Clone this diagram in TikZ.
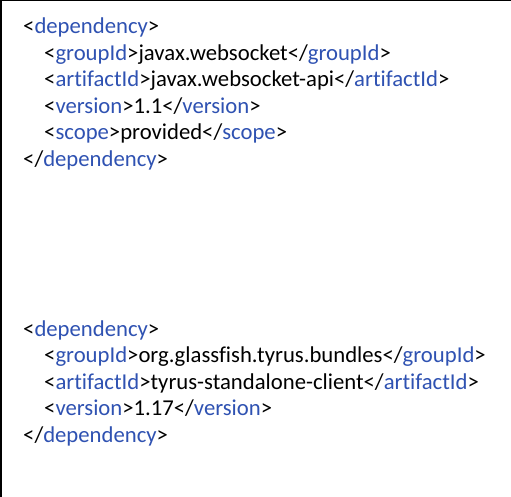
\documentclass[tikz,border=0pt]{standalone}
\usepackage{fontspec}
\setmainfont{Carlito}[Ligatures=NoCommon]
\definecolor{tagblue}{RGB}{47,82,178}
\newcommand{\otag}[1]{<\textcolor{tagblue}{#1}>}
\newcommand{\ctag}[1]{</\textcolor{tagblue}{#1}>}
\begin{document}
\begin{tikzpicture}[x=1pt,y=-1pt,
  codeline/.style={anchor=base west,inner sep=0pt,font=\fontsize{22.7}{26}\selectfont,text=black}]
\useasboundingbox (0,0) rectangle (511,497);
\fill[white] (0,0) rectangle (511,497);
\draw[line width=1.2pt] (0,0.6) -- (511,0.6);
\draw[line width=2pt] (1,0) -- (1,497);
% block 1
\node[codeline] (a1) at (23,34) {\otag{dependency}};
\node[codeline] (a2) at (44,60.5) {\otag{groupId}javax.websocket\ctag{groupId}};
\node[codeline] (a3) at (44,87) {\otag{artifactId}javax.websocket-api\ctag{artifactId}};
\node[codeline] (a4) at (44,113.5) {\otag{version}1.1\ctag{version}};
\node[codeline] (a5) at (44,140) {\otag{scope}provided\ctag{scope}};
\node[codeline] (a6) at (23,166.5) {\ctag{dependency}};
% block 2
\node[codeline] (b1) at (23,336) {\otag{dependency}};
\node[codeline] (b2) at (44,362.5) {\otag{groupId}org.glassfish.tyrus.bundles\ctag{groupId}};
\node[codeline] (b3) at (44,389) {\otag{artifactId}tyrus-standalone-client\ctag{artifactId}};
\node[codeline] (b4) at (44,415.5) {\otag{version}1.17\ctag{version}};
\node[codeline] (b5) at (23,442) {\ctag{dependency}};
\end{tikzpicture}
\end{document}
